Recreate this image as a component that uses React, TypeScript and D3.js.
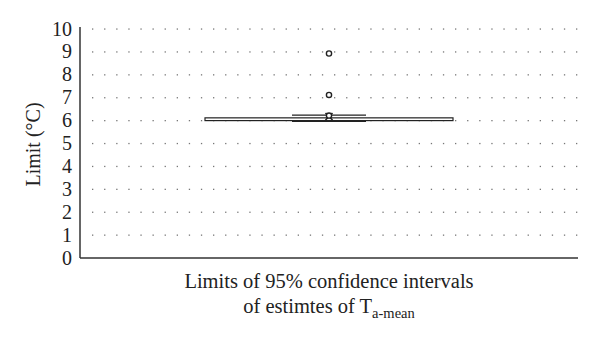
import React from "react";
import * as d3 from "d3";

const yTicks = [0, 1, 2, 3, 4, 5, 6, 7, 8, 9, 10];
const boxStats = { q1: 6.0, q3: 6.12, whiskerLow: 5.98, whiskerHigh: 6.24, mean: 6.18 };
const outliers = [8.93, 7.12, 6.22];
const categories = ["Limits of 95% confidence intervals of estimtes of Ta-mean"];

export default function App() {
  const W = 600, H = 339;
  const left = 80, right = 578, top = 29, bottom = 258;
  const y = d3.scaleLinear().domain([0, 10]).range([bottom, top]);
  const x = d3.scaleBand().domain(categories).range([left, right]).paddingInner(0).paddingOuter(0.25);
  const cx = (x(categories[0]) as number) + x.bandwidth() / 2;
  const boxHalf = 124;
  const capHalf = 37;
  const dotXs = d3.range(left + 12, right, 12.1);
  const font = "'Liberation Serif', 'DejaVu Serif', serif";
  return (
    <svg width={W} height={H} style={{ position: "absolute", left: 0, top: 0, background: "#fff" }}>
      {yTicks.filter(t => t > 0).map(t => (
        <g key={t}>
          {dotXs.map((dx, i) => (
            <rect key={i} x={dx} y={y(t) - 0.6} width={1.3} height={1.3} fill="#777" />
          ))}
        </g>
      ))}
      {yTicks.map(t => (
        <text key={t} x={left - 8} y={y(t) + 6.5} textAnchor="end" fontFamily={font} fontSize={20} fill="#222">{t}</text>
      ))}
      {/* box */}
      <rect x={cx - boxHalf} y={y(boxStats.q3)} width={boxHalf * 2} height={y(boxStats.q1) - y(boxStats.q3)} fill="#fff" stroke="#222" strokeWidth={1.2} />
      <line x1={cx - capHalf} x2={cx + capHalf} y1={y(boxStats.whiskerHigh)} y2={y(boxStats.whiskerHigh)} stroke="#222" strokeWidth={1.2} />
      <line x1={cx - capHalf} x2={cx + capHalf} y1={y(boxStats.whiskerLow)} y2={y(boxStats.whiskerLow)} stroke="#222" strokeWidth={2} />
      <line x1={cx} x2={cx} y1={y(boxStats.whiskerHigh)} y2={y(boxStats.q3)} stroke="#222" strokeWidth={1} />
      {/* mean */}
      <path d={`M${cx - 3.5},${y(boxStats.mean) - 3.5}L${cx + 3.5},${y(boxStats.mean) + 3.5}M${cx + 3.5},${y(boxStats.mean) - 3.5}L${cx - 3.5},${y(boxStats.mean) + 3.5}`} stroke="#222" strokeWidth={1.6} />
      {outliers.map((o, i) => (
        <circle key={i} cx={cx} cy={y(o)} r={2.6} fill="#fff" stroke="#222" strokeWidth={1.4} />
      ))}
      {/* axes */}
      <line x1={left} x2={left} y1={top - 2} y2={bottom} stroke="#333" strokeWidth={1.5} />
      <line x1={left} x2={right} y1={bottom} y2={bottom} stroke="#333" strokeWidth={1.5} />
      <text transform={`translate(40,${(top + bottom) / 2 + 1}) rotate(-90)`} textAnchor="middle" fontFamily={font} fontSize={20} fill="#222">Limit (°C)</text>
      <text x={cx} y={288} textAnchor="middle" fontFamily={font} fontSize={20.5} fill="#222">Limits of 95% confidence intervals</text>
      <text x={cx} y={313} textAnchor="middle" fontFamily={font} fontSize={20.5} fill="#222">
        of estimtes of T<tspan fontSize={14.5} dy={5}>a-mean</tspan>
      </text>
    </svg>
  );
}
